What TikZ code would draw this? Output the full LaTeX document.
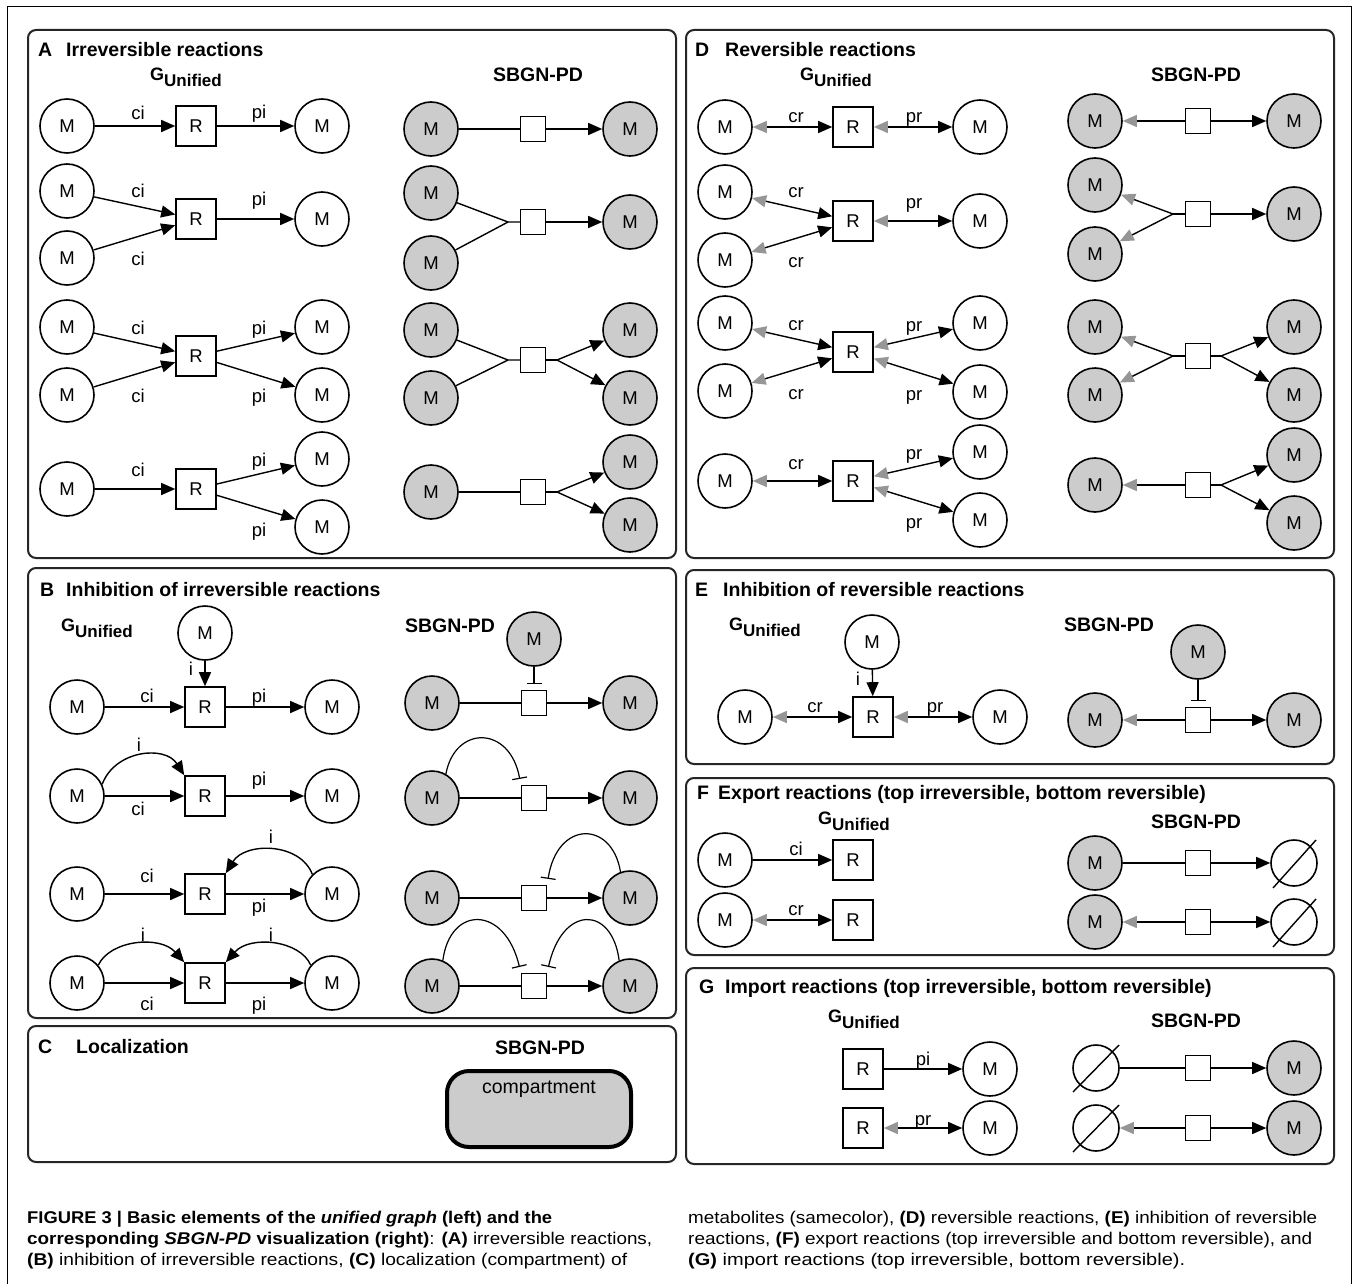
\documentclass[tikz,border=0pt]{standalone}
\usepackage{fontspec}
\setmainfont{Liberation Sans}
\usepackage{graphicx}
\usetikzlibrary{arrows.meta,calc}
\definecolor{cgray}{RGB}{204,204,204}
\definecolor{tipgray}{RGB}{150,150,150}
\newcommand\fsM{\fontsize{18.5}{18.5}\selectfont}
\newcommand\fsT{\fontsize{19.5}{20}\selectfont\bfseries}
\newcommand\gunif{G\raisebox{-6pt}{\fontsize{17}{17}\selectfont Unified}}
\newcommand\capline[2]{\setbox0=\hbox{#2}\pgfmathsetmacro\capsc{#1/\the\wd0}\scalebox{\capsc}[1]{\box0}}
\begin{document}
\begin{tikzpicture}[x=1pt,y=-1pt,
  met/.style={circle,draw,line width=1.6pt,minimum size=54pt,inner sep=0pt,font=\fsM},
  gmet/.style={met,fill=cgray},
  rx/.style={rectangle,draw,line width=1.6pt,minimum size=40pt,inner sep=0pt,font=\fsM},
  pnode/.style={rectangle,draw,line width=1.4pt,minimum size=25pt,inner sep=0pt,fill=white},
  eset/.style={circle,draw,line width=1.6pt,minimum size=46pt,inner sep=0pt},
  lab/.style={font=\fsM,inner sep=0pt,anchor=base},
  ttl/.style={font=\fsT,inner sep=0pt,anchor=base west},
  sbgn/.style={font=\fsT,inner sep=0pt,anchor=base},
  gu/.style={font=\bfseries\fontsize{18}{18}\selectfont,inner sep=0pt,anchor=base west},
  capn/.style={anchor=base west,inner sep=0pt,font=\fontsize{17}{17}\selectfont},
  arr/.style={line width=1.4pt,-{Triangle[length=14pt,width=12pt]}},
  rarr/.style={line width=1.4pt,{Triangle[length=14pt,width=12pt,color=tipgray]}-{Triangle[length=14pt,width=12pt]}},
  garr/.style={line width=1.4pt,{Triangle[length=14pt,width=12pt,color=tipgray]}-},
  ln/.style={line width=1.4pt},
  inh/.style={line width=1.2pt,-{Bar[width=15pt,line width=1.2pt]},shorten >=6pt},
  slash/.style={line width=1.4pt},
  panel/.style={draw=black!85,line width=2pt,rounded corners=8pt},
]
\useasboundingbox (0,0) rectangle (1354,1284);
\fill[white] (0,0) rectangle (1354,1284);
% outer frame
\draw[line width=1pt] (7,1290) -- (7,7) -- (1351,7) -- (1351,1290);
% panels
\draw[panel] (28,30) rectangle (676,558);
\draw[panel] (686,30) rectangle (1334,558);
\draw[panel] (28,568) rectangle (676,1018);
\draw[panel] (28,1026) rectangle (676,1162);
\draw[panel] (686,570) rectangle (1334,764);
\draw[panel] (686,778) rectangle (1334,955);
\draw[panel] (686,968) rectangle (1334,1164);

% titles
\node[ttl] (tA1) at (38,57) {A};
\node[ttl] (tA2) at (66,57) {Irreversible reactions};
\node[ttl] (tD1) at (695,57) {D};
\node[ttl] (tD2) at (725,57) {Reversible reactions};
\node[ttl] (tB1) at (40,596) {B};
\node[ttl] (tB2) at (66,596) {Inhibition of irreversible reactions};
\node[ttl] (tC1) at (38,1053) {C};
\node[ttl] (tC2) at (76,1053) {Localization};
\node[ttl] (tE1) at (695,596) {E};
\node[ttl] (tE2) at (723,596) {Inhibition of reversible reactions};
\node[ttl] (tF1) at (697,799) {F};
\node[ttl] (tF2) at (718,799) {Export reactions (top irreversible, bottom reversible)};
\node[ttl] (tG1) at (699,993) {G};
\node[ttl] (tG2) at (725,993) {Import reactions (top irreversible, bottom reversible)};

% SBGN-PD headings
\node[sbgn] (hA) at (538,82) {SBGN-PD};
\node[sbgn] (hD) at (1196,82) {SBGN-PD};
\node[sbgn] (hB) at (450,632) {SBGN-PD};
\node[sbgn] (hE) at (1109,631) {SBGN-PD};
\node[sbgn] (hC) at (540,1054) {SBGN-PD};
\node[sbgn] (hF) at (1196,828) {SBGN-PD};
\node[sbgn] (hG) at (1196,1027) {SBGN-PD};

% G_Unified headings
\node[gu] (uA) at (150,81) {\gunif};
\node[gu] (uD) at (800,81) {\gunif};
\node[gu] (uB) at (61,631) {\gunif};
\node[gu] (uE) at (729,630) {\gunif};
\node[gu] (uF) at (818,824) {\gunif};
\node[gu] (uG) at (828,1022) {\gunif};

% ================= Panel A =================
% row 1
\node[met] (a1m) at (67,126) {M};
\node[rx] (a1r) at (196,126) {R};
\node[met] (a1p) at (322,126) {M};
\draw[arr] (a1m) -- (a1r);
\draw[arr] (a1r) -- (a1p);
\node[lab] (la1) at (138,120) {ci};
\node[lab] (la2) at (259,119) {pi};
\node[gmet] (sa1m) at (431,129) {M};
\node[pnode] (sa1q) at (533,129) {};
\node[gmet] (sa1p) at (630,129) {M};
\draw[ln] (sa1m) -- (sa1q);
\draw[arr] (sa1q) -- (sa1p);
% row 2
\node[met] (a2m1) at (67,191) {M};
\node[met] (a2m2) at (67,258) {M};
\node[rx] (a2r) at (196,219) {R};
\node[met] (a2p) at (322,219) {M};
\draw[arr] (a2m1) -- (a2r);
\draw[arr] (a2m2) -- (a2r);
\draw[arr] (a2r) -- (a2p);
\node[lab] (la3) at (138,197) {ci};
\node[lab] (la4) at (138,265) {ci};
\node[lab] (la5) at (259,205) {pi};
\node[gmet] (sa2m1) at (431,193) {M};
\node[gmet] (sa2m2) at (431,263) {M};
\node[pnode] (sa2q) at (533,222) {};
\coordinate (sa2j) at (508,222);
\node[gmet] (sa2p) at (630,222) {M};
\draw[ln] (sa2m1) -- (sa2j) -- (sa2q);
\draw[ln] (sa2m2) -- (sa2j);
\draw[arr] (sa2q) -- (sa2p);
% row 3
\node[met] (a3m1) at (67,327) {M};
\node[met] (a3m2) at (67,395) {M};
\node[rx] (a3r) at (196,356) {R};
\node[met] (a3p1) at (322,327) {M};
\node[met] (a3p2) at (322,395) {M};
\draw[arr] (a3m1) -- (a3r);
\draw[arr] (a3m2) -- (a3r);
\draw[arr] (a3r) -- (a3p1);
\draw[arr] (a3r) -- (a3p2);
\node[lab] (la6) at (138,334) {ci};
\node[lab] (la7) at (138,402) {ci};
\node[lab] (la8) at (259,334) {pi};
\node[lab] (la9) at (259,402) {pi};
\node[gmet] (sa3m1) at (431,330) {M};
\node[gmet] (sa3m2) at (431,398) {M};
\node[pnode] (sa3q) at (533,360) {};
\coordinate (sa3j) at (508,360);
\coordinate (sa3k) at (557,360);
\node[gmet] (sa3p1) at (630,330) {M};
\node[gmet] (sa3p2) at (630,398) {M};
\draw[ln] (sa3m1) -- (sa3j) -- (sa3q);
\draw[ln] (sa3m2) -- (sa3j);
\draw[ln] (sa3q) -- (sa3k);
\draw[arr] (sa3k) -- (sa3p1);
\draw[arr] (sa3k) -- (sa3p2);
% row 4
\node[met] (a4m) at (67,489) {M};
\node[rx] (a4r) at (196,489) {R};
\node[met] (a4p1) at (322,459) {M};
\node[met] (a4p2) at (322,527) {M};
\draw[arr] (a4m) -- (a4r);
\draw[arr] (a4r) -- (a4p1);
\draw[arr] (a4r) -- (a4p2);
\node[lab] (la10) at (138,476) {ci};
\node[lab] (la11) at (259,466) {pi};
\node[lab] (la12) at (259,536) {pi};
\node[gmet] (sa4m) at (431,492) {M};
\node[pnode] (sa4q) at (533,492) {};
\coordinate (sa4k) at (557,492);
\node[gmet] (sa4p1) at (630,462) {M};
\node[gmet] (sa4p2) at (630,525) {M};
\draw[ln] (sa4m) -- (sa4q);
\draw[ln] (sa4q) -- (sa4k);
\draw[arr] (sa4k) -- (sa4p1);
\draw[arr] (sa4k) -- (sa4p2);

% ================= Panel D =================
% row 1
\node[met] (d1m) at (725,127) {M};
\node[rx] (d1r) at (853,127) {R};
\node[met] (d1p) at (980,127) {M};
\draw[rarr] (d1m) -- (d1r);
\draw[rarr] (d1r) -- (d1p);
\node[lab] (ld1) at (796,123) {cr};
\node[lab] (ld2) at (914,123) {pr};
\node[gmet] (sd1m) at (1095,121) {M};
\node[pnode] (sd1q) at (1198,121) {};
\node[gmet] (sd1p) at (1294,121) {M};
\draw[garr] (sd1m) -- (sd1q);
\draw[arr] (sd1q) -- (sd1p);
% row 2
\node[met] (d2m1) at (725,192) {M};
\node[met] (d2m2) at (725,260) {M};
\node[rx] (d2r) at (853,221) {R};
\node[met] (d2p) at (980,221) {M};
\draw[rarr] (d2m1) -- (d2r);
\draw[rarr] (d2m2) -- (d2r);
\draw[rarr] (d2r) -- (d2p);
\node[lab] (ld3) at (796,198) {cr};
\node[lab] (ld4) at (796,267) {cr};
\node[lab] (ld5) at (914,208) {pr};
\node[gmet] (sd2m1) at (1095,185) {M};
\node[gmet] (sd2m2) at (1095,254) {M};
\node[pnode] (sd2q) at (1198,214) {};
\coordinate (sd2j) at (1173,214);
\node[gmet] (sd2p) at (1294,214) {M};
\draw[garr] (sd2m1) -- (sd2j);
\draw[garr] (sd2m2) -- (sd2j);
\draw[ln] (sd2j) -- (sd2q);
\draw[arr] (sd2q) -- (sd2p);
% row 3
\node[met] (d3m1) at (725,323) {M};
\node[met] (d3m2) at (725,391) {M};
\node[rx] (d3r) at (853,352) {R};
\node[met] (d3p1) at (980,323) {M};
\node[met] (d3p2) at (980,392) {M};
\draw[rarr] (d3m1) -- (d3r);
\draw[rarr] (d3m2) -- (d3r);
\draw[rarr] (d3r) -- (d3p1);
\draw[rarr] (d3r) -- (d3p2);
\node[lab] (ld6) at (796,330) {cr};
\node[lab] (ld7) at (796,399) {cr};
\node[lab] (ld8) at (914,331) {pr};
\node[lab] (ld9) at (914,400) {pr};
\node[gmet] (sd3m1) at (1095,327) {M};
\node[gmet] (sd3m2) at (1095,395) {M};
\node[pnode] (sd3q) at (1198,356) {};
\coordinate (sd3j) at (1173,356);
\coordinate (sd3k) at (1221,356);
\node[gmet] (sd3p1) at (1294,327) {M};
\node[gmet] (sd3p2) at (1294,395) {M};
\draw[garr] (sd3m1) -- (sd3j);
\draw[garr] (sd3m2) -- (sd3j);
\draw[ln] (sd3j) -- (sd3q) -- (sd3k);
\draw[arr] (sd3k) -- (sd3p1);
\draw[arr] (sd3k) -- (sd3p2);
% row 4
\node[met] (d4m) at (725,481) {M};
\node[rx] (d4r) at (853,481) {R};
\node[met] (d4p1) at (980,452) {M};
\node[met] (d4p2) at (980,520) {M};
\draw[rarr] (d4m) -- (d4r);
\draw[rarr] (d4r) -- (d4p1);
\draw[rarr] (d4r) -- (d4p2);
\node[lab] (ld10) at (796,469) {cr};
\node[lab] (ld11) at (914,459) {pr};
\node[lab] (ld12) at (914,528) {pr};
\node[gmet] (sd4m) at (1095,485) {M};
\node[pnode] (sd4q) at (1198,485) {};
\coordinate (sd4k) at (1221,485);
\node[gmet] (sd4p1) at (1294,455) {M};
\node[gmet] (sd4p2) at (1294,523) {M};
\draw[garr] (sd4m) -- (sd4q);
\draw[ln] (sd4q) -- (sd4k);
\draw[arr] (sd4k) -- (sd4p1);
\draw[arr] (sd4k) -- (sd4p2);

% ================= Panel B =================
% row 1
\node[met] (b1i) at (205,633) {M};
\node[met] (b1m) at (77,707) {M};
\node[rx] (b1r) at (205,707) {R};
\node[met] (b1p) at (332,707) {M};
\draw[arr] (b1i) -- (b1r);
\draw[arr] (b1m) -- (b1r);
\draw[arr] (b1r) -- (b1p);
\node[lab] (lb1) at (191,675) {i};
\node[lab] (lb2) at (147,702) {ci};
\node[lab] (lb3) at (259,702) {pi};
\node[gmet] (sb1i) at (534,639) {M};
\node[gmet] (sb1m) at (432,703) {M};
\node[pnode] (sb1q) at (534,703) {};
\node[gmet] (sb1p) at (630,703) {M};
\draw[inh] (sb1i) -- (sb1q);
\draw[ln] (sb1m) -- (sb1q);
\draw[arr] (sb1q) -- (sb1p);
% row 2
\node[met] (b2m) at (77,796) {M};
\node[rx] (b2r) at (205,796) {R};
\node[met] (b2p) at (332,796) {M};
\draw[arr] (b2m) -- (b2r);
\draw[arr] (b2r) -- (b2p);
\draw[arr] (b2m.25) .. controls (115,750) and (165,745) .. (b2r.north west);
\node[lab] (lb4) at (139,751) {i};
\node[lab] (lb5) at (138,815) {ci};
\node[lab] (lb6) at (259,785) {pi};
\node[gmet] (sb2m) at (432,798) {M};
\node[pnode] (sb2q) at (534,798) {};
\node[gmet] (sb2p) at (630,798) {M};
\draw[ln] (sb2m) -- (sb2q);
\draw[arr] (sb2q) -- (sb2p);
\draw[inh] (sb2m.60) .. controls (455,725) and (510,725) .. (sb2q.north west);
% row 3
\node[met] (b3m) at (77,894) {M};
\node[rx] (b3r) at (205,894) {R};
\node[met] (b3p) at (332,894) {M};
\draw[arr] (b3m) -- (b3r);
\draw[arr] (b3r) -- (b3p);
\draw[arr] (b3p.135) .. controls (300,842) and (245,842) .. (b3r.north east);
\node[lab] (lb7) at (271,843) {i};
\node[lab] (lb8) at (147,882) {ci};
\node[lab] (lb9) at (259,912) {pi};
\node[gmet] (sb3m) at (432,898) {M};
\node[pnode] (sb3q) at (534,898) {};
\node[gmet] (sb3p) at (630,898) {M};
\draw[ln] (sb3m) -- (sb3q);
\draw[arr] (sb3q) -- (sb3p);
\draw[inh] (sb3p.110) .. controls (612,820) and (557,820) .. (sb3q.north east);
% row 4
\node[met] (b4m) at (77,983) {M};
\node[rx] (b4r) at (205,983) {R};
\node[met] (b4p) at (332,983) {M};
\draw[arr] (b4m) -- (b4r);
\draw[arr] (b4r) -- (b4p);
\draw[arr] (b4m.40) .. controls (110,940) and (160,935) .. (b4r.north west);
\draw[arr] (b4p.140) .. controls (300,940) and (250,935) .. (b4r.north east);
\node[lab] (lb10) at (143,941) {i};
\node[lab] (lb11) at (271,941) {i};
\node[lab] (lb12) at (147,1010) {ci};
\node[lab] (lb13) at (259,1010) {pi};
\node[gmet] (sb4m) at (432,986) {M};
\node[pnode] (sb4q) at (534,986) {};
\node[gmet] (sb4p) at (630,986) {M};
\draw[ln] (sb4m) -- (sb4q);
\draw[arr] (sb4q) -- (sb4p);
\draw[inh] (sb4m.67) .. controls (450,905) and (505,905) .. (sb4q.north west);
\draw[inh] (sb4p.113) .. controls (612,905) and (562,905) .. (sb4q.north east);

% ================= Panel C =================
\node[draw,line width=4pt,fill=cgray,rounded corners=22pt,minimum width=184pt,minimum height=76pt,inner sep=0pt] (comp) at (539,1109) {};
\node[font=\fontsize{19.5}{19.5}\selectfont,inner sep=0pt,anchor=base] (compt) at (539,1093) {compartment};

% ================= Panel E =================
\node[met] (ei) at (872,642) {M};
\node[met] (em) at (745,717) {M};
\node[rx] (er) at (873,717) {R};
\node[met] (ep) at (1000,717) {M};
\draw[arr] (ei) -- (er);
\draw[rarr] (em) -- (er);
\draw[rarr] (er) -- (ep);
\node[lab] (le1) at (858,685) {i};
\node[lab] (le2) at (815,712) {cr};
\node[lab] (le3) at (935,712) {pr};
\node[gmet] (sei) at (1198,652) {M};
\node[gmet] (sem) at (1095,720) {M};
\node[pnode] (seq) at (1198,720) {};
\node[gmet] (sep) at (1294,720) {M};
\draw[inh] (sei) -- (seq);
\draw[garr] (sem) -- (seq);
\draw[arr] (seq) -- (sep);

% ================= Panel F =================
\node[met] (f1m) at (725,860) {M};
\node[rx] (f1r) at (853,860) {R};
\draw[arr] (f1m) -- (f1r);
\node[lab] (lf1) at (796,855) {ci};
\node[met] (f2m) at (725,920) {M};
\node[rx] (f2r) at (853,920) {R};
\draw[rarr] (f2m) -- (f2r);
\node[lab] (lf2) at (796,915) {cr};
\node[gmet] (sf1m) at (1095,863) {M};
\node[pnode] (sf1q) at (1198,863) {};
\node[eset] (sf1e) at (1294,863) {};
\draw[slash] ($(sf1e)+(-21,25)$) -- ($(sf1e)+(22,-23)$);
\draw[ln] (sf1m) -- (sf1q);
\draw[arr] (sf1q) -- (sf1e);
\node[gmet] (sf2m) at (1095,922) {M};
\node[pnode] (sf2q) at (1198,922) {};
\node[eset] (sf2e) at (1294,922) {};
\draw[slash] ($(sf2e)+(-21,25)$) -- ($(sf2e)+(22,-23)$);
\draw[garr] (sf2m) -- (sf2q);
\draw[arr] (sf2q) -- (sf2e);

% ================= Panel G =================
\node[rx] (g1r) at (863,1069) {R};
\node[met] (g1m) at (990,1069) {M};
\draw[arr] (g1r) -- (g1m);
\node[lab] (lg1) at (923,1065) {pi};
\node[rx] (g2r) at (863,1128) {R};
\node[met] (g2m) at (990,1128) {M};
\draw[rarr] (g2r) -- (g2m);
\node[lab] (lg2) at (923,1125) {pr};
\node[eset] (sg1e) at (1096,1068) {};
\draw[slash] ($(sg1e)+(-23,24)$) -- ($(sg1e)+(23,-23)$);
\node[pnode] (sg1q) at (1198,1068) {};
\node[gmet] (sg1m) at (1294,1068) {M};
\draw[ln] (sg1e) -- (sg1q);
\draw[arr] (sg1q) -- (sg1m);
\node[eset] (sg2e) at (1096,1128) {};
\draw[slash] ($(sg2e)+(-23,24)$) -- ($(sg2e)+(23,-23)$);
\node[pnode] (sg2q) at (1198,1128) {};
\node[gmet] (sg2m) at (1294,1128) {M};
\draw[garr] (sg2e) -- (sg2q);
\draw[arr] (sg2q) -- (sg2m);

% ================= Caption =================
\node[capn] (cap1) at (27,1223) {\capline{525}{\bfseries FIGURE 3 | Basic elements of the \textit{unified graph} (left) and the}};
\node[capn] (cap2) at (27,1244) {\capline{625}{\textbf{corresponding \textit{SBGN-PD} visualization (right)}: \textbf{(A)} irreversible reactions,}};
\node[capn] (cap3) at (27,1265) {\capline{600}{\textbf{(B)} inhibition of irreversible reactions, \textbf{(C)} localization (compartment) of}};
\node[capn] (cap4) at (688,1223) {\capline{629}{metabolites (samecolor), \textbf{(D)} reversible reactions, \textbf{(E)} inhibition of reversible}};
\node[capn] (cap5) at (688,1244) {\capline{624}{reactions, \textbf{(F)} export reactions (top irreversible and bottom reversible), and}};
\node[capn] (cap6) at (688,1265) {\capline{497}{\textbf{(G)} import reactions (top irreversible, bottom reversible).}};
\end{tikzpicture}
\end{document}
